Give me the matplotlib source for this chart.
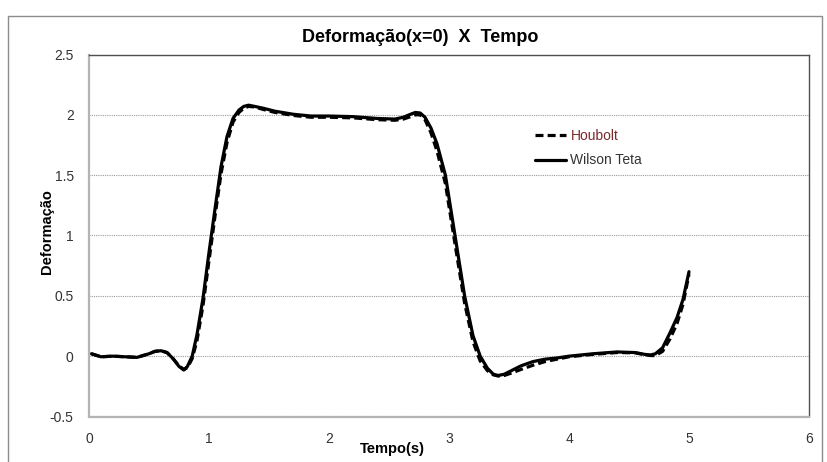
import matplotlib
matplotlib.use("Agg")
import matplotlib.pyplot as plt
from matplotlib.patches import Rectangle

plt.rcParams['font.family'] = ['Liberation Sans', 'DejaVu Sans']

# time (s)
tempo = [0.02, 0.1, 0.2, 0.3, 0.4, 0.5, 0.55, 0.6, 0.65, 0.7,
         0.75, 0.79, 0.82, 0.86, 0.9, 0.95, 1.0, 1.05, 1.1, 1.15,
         1.2, 1.25, 1.29, 1.33, 1.38, 1.45, 1.55, 1.7, 1.85, 2.0,
         2.2, 2.4, 2.55, 2.62, 2.68, 2.72, 2.76, 2.8, 2.85, 2.9,
         2.97, 3.05, 3.13, 3.2, 3.26, 3.32, 3.37, 3.41, 3.46, 3.52,
         3.6, 3.7, 3.8, 3.9, 4.0, 4.2, 4.4, 4.55, 4.63, 4.68,
         4.72, 4.78, 4.84, 4.9, 4.95, 5.0]

wilson = [0.02, -0.005, 0.0, -0.005, -0.01, 0.02, 0.04, 0.045, 0.03, -0.02,
          -0.085, -0.115, -0.085, 0.0, 0.18, 0.48, 0.86, 1.22, 1.57, 1.82,
          1.97, 2.04, 2.07, 2.08, 2.07, 2.055, 2.03, 2.005, 1.99, 1.99,
          1.985, 1.97, 1.965, 1.98, 2.005, 2.02, 2.015, 1.98, 1.89, 1.76,
          1.5, 1.0, 0.5, 0.17, 0.0, -0.1, -0.15, -0.16, -0.15, -0.12,
          -0.08, -0.045, -0.025, -0.015, 0.0, 0.02, 0.035, 0.03, 0.015, 0.01,
          0.02, 0.07, 0.19, 0.32, 0.47, 0.70]

houbolt = [0.02, -0.005, 0.0, -0.005, -0.01, 0.02, 0.04, 0.045, 0.03, -0.02,
           -0.08, -0.11, -0.095, -0.02, 0.13, 0.42, 0.79, 1.16, 1.51, 1.77,
           1.94, 2.02, 2.055, 2.07, 2.065, 2.045, 2.02, 1.995, 1.98, 1.98,
           1.975, 1.96, 1.955, 1.965, 1.985, 2.0, 2.0, 1.96, 1.85, 1.7,
           1.43, 0.93, 0.44, 0.12, -0.04, -0.12, -0.155, -0.165, -0.16, -0.14,
           -0.11, -0.075, -0.045, -0.025, -0.005, 0.015, 0.03, 0.028, 0.012, 0.005,
           0.005, 0.04, 0.14, 0.27, 0.43, 0.68]

xticks = [0, 1, 2, 3, 4, 5, 6]
yticks = [-0.5, 0, 0.5, 1, 1.5, 2, 2.5]
ytick_labels = ['-0.5', '0', '0.5', '1', '1.5', '2', '2.5']

W, H = 827, 462
fig = plt.figure(figsize=(W / 100, H / 100), dpi=100)
ax = fig.add_axes([89 / W, 1 - 416.5 / H, 720 / W, 362 / H])

# outer chart frame (Excel style)
fig.patches.append(Rectangle((8 / W, -0.05), 814 / W, 1 - 16 / H + 0.05,
                             transform=fig.transFigure, fill=False,
                             edgecolor='#8c8c8c', linewidth=1))

ax.plot(tempo, houbolt, color='black', lw=2.3, dashes=(2.5, 1.3),
        dash_joinstyle='round', label='Houbolt')
ax.plot(tempo, wilson, color='black', lw=2.3, solid_joinstyle='round',
        solid_capstyle='round', label='Wilson Teta')

ax.set_xlim(0, 6)
ax.set_ylim(-0.5, 2.5)
ax.set_xticks(xticks)
ax.set_yticks(yticks)
ax.set_xticklabels([str(v) for v in xticks])
ax.set_yticklabels(ytick_labels)
ax.tick_params(length=0, labelsize=10, colors='#333333')
ax.tick_params(axis='x', pad=11)
ax.tick_params(axis='y', pad=11)

ax.grid(axis='y', linestyle=(0, (1, 1)), color='#9a9a9a', lw=0.8)
ax.set_axisbelow(True)

for s in ['left', 'bottom']:
    ax.spines[s].set_color('#b4b4b4')
    ax.spines[s].set_linewidth(1.6)
for s in ['top', 'right']:
    ax.spines[s].set_color('#505050')
    ax.spines[s].set_linewidth(1.0)

fig.text(420 / W, 1 - 37 / H, 'Deformação(x=0)  X  Tempo', ha='center', va='center',
         fontsize=13, fontweight='bold')
fig.text(47 / W, 1 - 232 / H, 'Deformação', rotation=90, ha='center', va='center',
         fontsize=10.5, fontweight='bold')
fig.text(392 / W, 1 - 449 / H, 'Tempo(s)', ha='center', va='center',
         fontsize=10.5, fontweight='bold')

leg = ax.legend(loc='upper left', bbox_to_anchor=((535 - 89) / 720, (416.5 - 129) / 362),
                frameon=False, fontsize=10, handlelength=2.2, handletextpad=0.35,
                labelspacing=0.75, borderpad=0, borderaxespad=0)
leg.get_texts()[0].set_color('#7b2a2a')
leg.get_texts()[1].set_color('#333333')

fig.savefig('out.png', dpi=100)
